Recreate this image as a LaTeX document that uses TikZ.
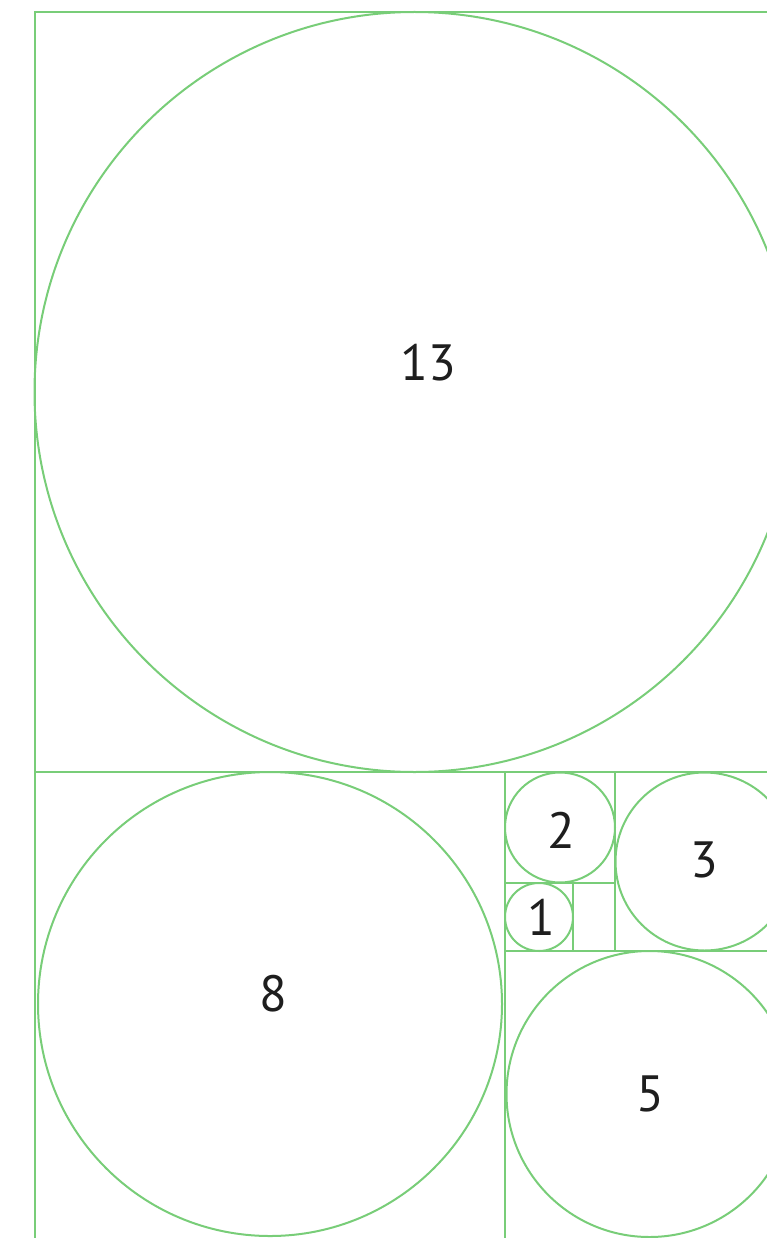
\documentclass[tikz,border=0pt]{standalone}
\usepackage{fontspec}
\setsansfont{PT Sans}
\usetikzlibrary{positioning}
\definecolor{fibgreen}{RGB}{120,205,120}
\definecolor{numgray}{RGB}{30,30,30}

\begin{document}
\begin{tikzpicture}[x=1pt,y=-1pt,
  fibline/.style={fibgreen, line width=2pt},
  fibnum/.style={font=\sffamily\fontsize{51}{51}\selectfont, text=numgray, inner sep=0pt}]
\useasboundingbox (0,0) rectangle (767,1238);
\clip (0,0) rectangle (767,1238);
% squares
\draw[fibline] (790,12) -| (35,1250);
\draw[fibline] (35,772) -- (790,772);
\draw[fibline] (505,772) -- (505,1250);
\draw[fibline] (505,883) -- (615,883);
\draw[fibline] (615,772) -- (615,951);
\draw[fibline] (573,883) -- (573,951);
\draw[fibline] (505,951) -- (790,951);
% circles
\foreach \cx/\cy/\r in {414.5/392/380, 270/1004/232, 649.5/1094/143, 704.5/861.5/89, 560/827.5/55, 539/917/34} {
  \draw[fibline] (\cx,\cy) circle (\r);
}
% numbers
\node[fibnum] (n13) at (428,363) {13};
\node[fibnum] (n8) at (273,994) {8};
\node[fibnum] (n5) at (650,1094) {5};
\node[fibnum] (n3) at (704,860) {3};
\node[fibnum] (n2) at (561,830) {2};
\node[fibnum] (n1) at (541,917) {1};
\end{tikzpicture}
\end{document}
